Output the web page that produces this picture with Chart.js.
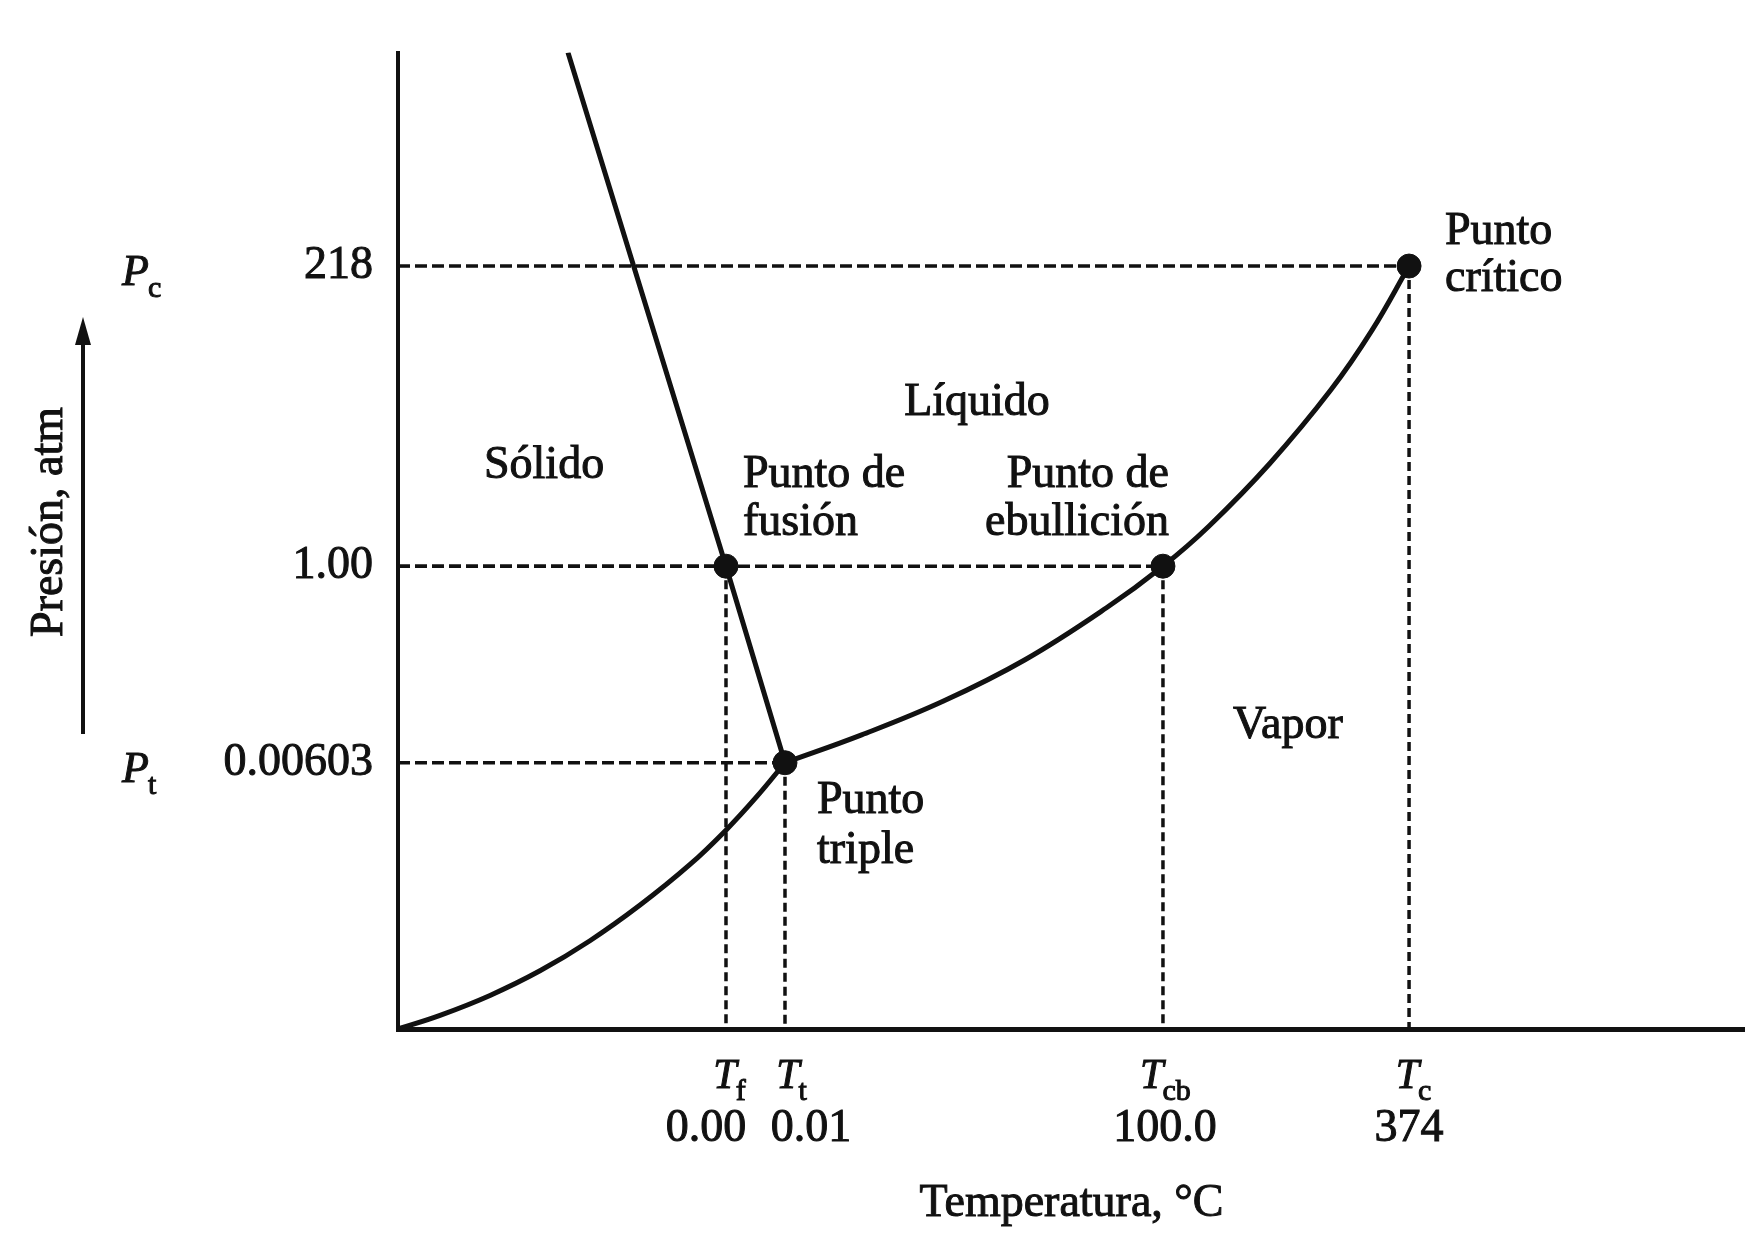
<!DOCTYPE html>
<html>
<head>
<meta charset="utf-8">
<script src="https://cdn.jsdelivr.net/npm/chart.js@4.4.1/dist/chart.umd.min.js"></script>
<style>
  html, body { margin: 0; padding: 0; background: #fff; }
  #wrap { width: 1745px; height: 1244px; }
</style>
</head>
<body>
<div id="wrap"><canvas id="phase_chart" width="1745" height="1244"></canvas></div>
<script>
// schematic phase diagram of water, axes in arbitrary (non linear) units 0..100
const xTickPos = [24.35, 28.73, 56.79, 75.06];
const xTickLabels = ["0.00", "0.01", "100.0", "374"];
const xTickSymbols = [["T", "f"], ["T", "t"], ["T", "cb"], ["T", "c"]];

const yTickPos = [27.27, 47.4, 78.14];
const yTickLabels = ["0.00603", "1.00", "218"];
const yTickSymbols = [["P", "t"], null, ["P", "c"]];

// solid-vapour curve
const sublimationT = [0, 3.12, 6.83, 10.54, 14.25, 17.97, 21.68, 24.4, 26.63, 28.73];
const sublimationP = [0, 1.4, 3.44, 5.96, 9.04, 12.69, 16.85, 20.44, 23.79, 27.27];

// liquid-vapour curve
const vaporT = [28.73, 34.42, 40.46, 46.55, 52.6, 56.79, 60.18, 64.72, 69.26, 72.29, 75.06];
const vaporP = [27.27, 30.12, 33.56, 37.82, 43.14, 47.4, 51.47, 57.92, 65.46, 71.52, 78.14];

// solid-liquid line
const fusionT = [28.73, 24.35, 12.62];
const fusionP = [27.27, 47.4, 100];

// triple, fusion, boiling, critical
const pointT = [28.73, 24.35, 56.79, 75.06];
const pointP = [27.27, 47.4, 47.4, 78.14];

const FONT = "'Liberation Serif', 'Times New Roman', serif";
const INK = "#111";

const toXY = (xs, ys) => xs.map((x, i) => ({ x: x, y: ys[i] }));

const guideStyle = {
  borderColor: INK,
  borderWidth: 3.5,
  pointRadius: 0,
  tension: 0,
  order: 3,
};

const hGuides = pointT.map((t, i) => Object.assign({
  data: [{ x: 0, y: pointP[i] }, { x: t, y: pointP[i] }],
  borderDash: [12, 5],
}, guideStyle));

const vGuides = pointT.map((t, i) => Object.assign({
  data: [{ x: t, y: pointP[i] }, { x: t, y: 0 }],
  borderDash: [9, 5],
}, guideStyle));

const curveStyle = {
  borderColor: INK,
  borderWidth: 5,
  pointRadius: 0,
  order: 2,
};

const data = {
  datasets: [
    {
      label: "puntos",
      data: toXY(pointT, pointP),
      showLine: false,
      pointRadius: 12,
      pointBackgroundColor: INK,
      pointBorderColor: INK,
      order: 1,
    },
    Object.assign({ label: "sublimación", data: toXY(sublimationT, sublimationP), tension: 0.4 }, curveStyle),
    Object.assign({ label: "vaporización", data: toXY(vaporT, vaporP), tension: 0.4 }, curveStyle),
    Object.assign({ label: "fusión", data: toXY(fusionT, fusionP), tension: 0 }, curveStyle),
    ...hGuides,
    ...vGuides,
  ],
};

// per tick nudges for the crowded labels under the axis
const symShift = [4, 7, 3, 5];
const numShift = [-20, 26, 2, 0];

const notes = [
  { t: "Sólido", x: 484, y: 478, a: "left" },
  { t: "Líquido", x: 977, y: 415, a: "center" },
  { t: "Punto de", x: 743, y: 487, a: "left" },
  { t: "fusión", x: 743, y: 535, a: "left" },
  { t: "Punto de", x: 1169, y: 487, a: "right" },
  { t: "ebullición", x: 1169, y: 535, a: "right" },
  { t: "Punto", x: 817, y: 813, a: "left" },
  { t: "triple", x: 817, y: 863, a: "left" },
  { t: "Vapor", x: 1233, y: 738, a: "left" },
  { t: "Punto", x: 1445, y: 244, a: "left" },
  { t: "crítico", x: 1445, y: 291, a: "left" },
];

function ink(ctx, text, x, y) {
  ctx.fillText(text, x, y);
  ctx.strokeText(text, x, y);
}

function symbol(ctx, main, sub, x, y, size, subDrop, centered) {
  ctx.font = "italic " + size + "px " + FONT;
  const wm = ctx.measureText(main).width;
  ctx.font = "30px " + FONT;
  const ws = ctx.measureText(sub).width;
  const left = centered ? x - (wm + ws) / 2 : x;
  ctx.textAlign = "left";
  ctx.font = "italic " + size + "px " + FONT;
  ink(ctx, main, left, y);
  ctx.font = "30px " + FONT;
  ink(ctx, sub, left + wm - 1, y + subDrop);
}

const annotate = {
  id: "annotate",
  afterDraw(chart) {
    const ctx = chart.ctx;
    const xs = chart.scales.x;
    const ys = chart.scales.y;
    ctx.save();
    ctx.fillStyle = INK;
    ctx.strokeStyle = INK;
    ctx.lineWidth = 1;
    ctx.textBaseline = "alphabetic";

    // temperature labels
    xTickPos.forEach((v, i) => {
      const px = xs.getPixelForValue(v);
      symbol(ctx, xTickSymbols[i][0], xTickSymbols[i][1], px + symShift[i], 1088, 42, 12, true);
      ctx.font = "46px " + FONT;
      ctx.textAlign = "center";
      ink(ctx, xTickLabels[i], px + numShift[i], 1141);
    });

    // pressure symbols
    yTickPos.forEach((v, i) => {
      if (!yTickSymbols[i]) return;
      const py = ys.getPixelForValue(v);
      symbol(ctx, yTickSymbols[i][0], yTickSymbols[i][1], 122, py + 19, 44, 12, false);
    });

    // region and point labels
    ctx.font = "46px " + FONT;
    notes.forEach((n) => {
      ctx.textAlign = n.a;
      ink(ctx, n.t, n.x, n.y);
    });

    // x title
    ctx.textAlign = "center";
    ink(ctx, "Temperatura, °C", (xs.left + xs.right) / 2, 1216);

    // y title with arrow
    ctx.save();
    ctx.translate(50, 522);
    ctx.rotate(-Math.PI / 2);
    ctx.textAlign = "center";
    ctx.textBaseline = "middle";
    ink(ctx, "Presión, atm", 0, 0);
    ctx.restore();

    ctx.lineWidth = 4;
    ctx.beginPath();
    ctx.moveTo(83, 734);
    ctx.lineTo(83, 335);
    ctx.stroke();
    ctx.beginPath();
    ctx.moveTo(83, 317);
    ctx.lineTo(75, 345);
    ctx.lineTo(91, 345);
    ctx.closePath();
    ctx.fill();
    ctx.restore();
  },
};

const config = {
  type: "scatter",
  data: data,
  plugins: [annotate],
  options: {
    responsive: false,
    animation: false,
    layout: { autoPadding: false, padding: { top: 50, left: 0, right: 0, bottom: 0 } },
    plugins: {
      legend: { display: false },
      tooltip: { enabled: false },
    },
    elements: { line: { fill: false } },
    datasets: { scatter: { showLine: true } },
    scales: {
      x: {
        type: "linear",
        min: 0,
        max: 100,
        grid: { display: false, drawTicks: false },
        border: { display: true, color: INK, width: 5 },
        ticks: { display: false },
        afterBuildTicks: (scale) => {
          scale.ticks = xTickPos.map((v) => ({ value: v }));
        },
        afterFit: (scale) => {
          scale.height = 215;
        },
      },
      y: {
        type: "linear",
        min: 0,
        max: 100,
        grid: { display: false, drawTicks: false },
        border: { display: true, color: INK, width: 4 },
        afterBuildTicks: (scale) => {
          scale.ticks = yTickPos.map((v) => ({ value: v }));
        },
        afterFit: (scale) => {
          scale.width = 398;
        },
        ticks: {
          padding: 25,
          color: INK,
          textStrokeColor: INK,
          textStrokeWidth: 1,
          font: { family: FONT, size: 46 },
          callback: (value, index) => yTickLabels[index],
        },
      },
    },
  },
};

const phase_chart = new Chart(document.getElementById("phase_chart"), config);
</script>
</body>
</html>
